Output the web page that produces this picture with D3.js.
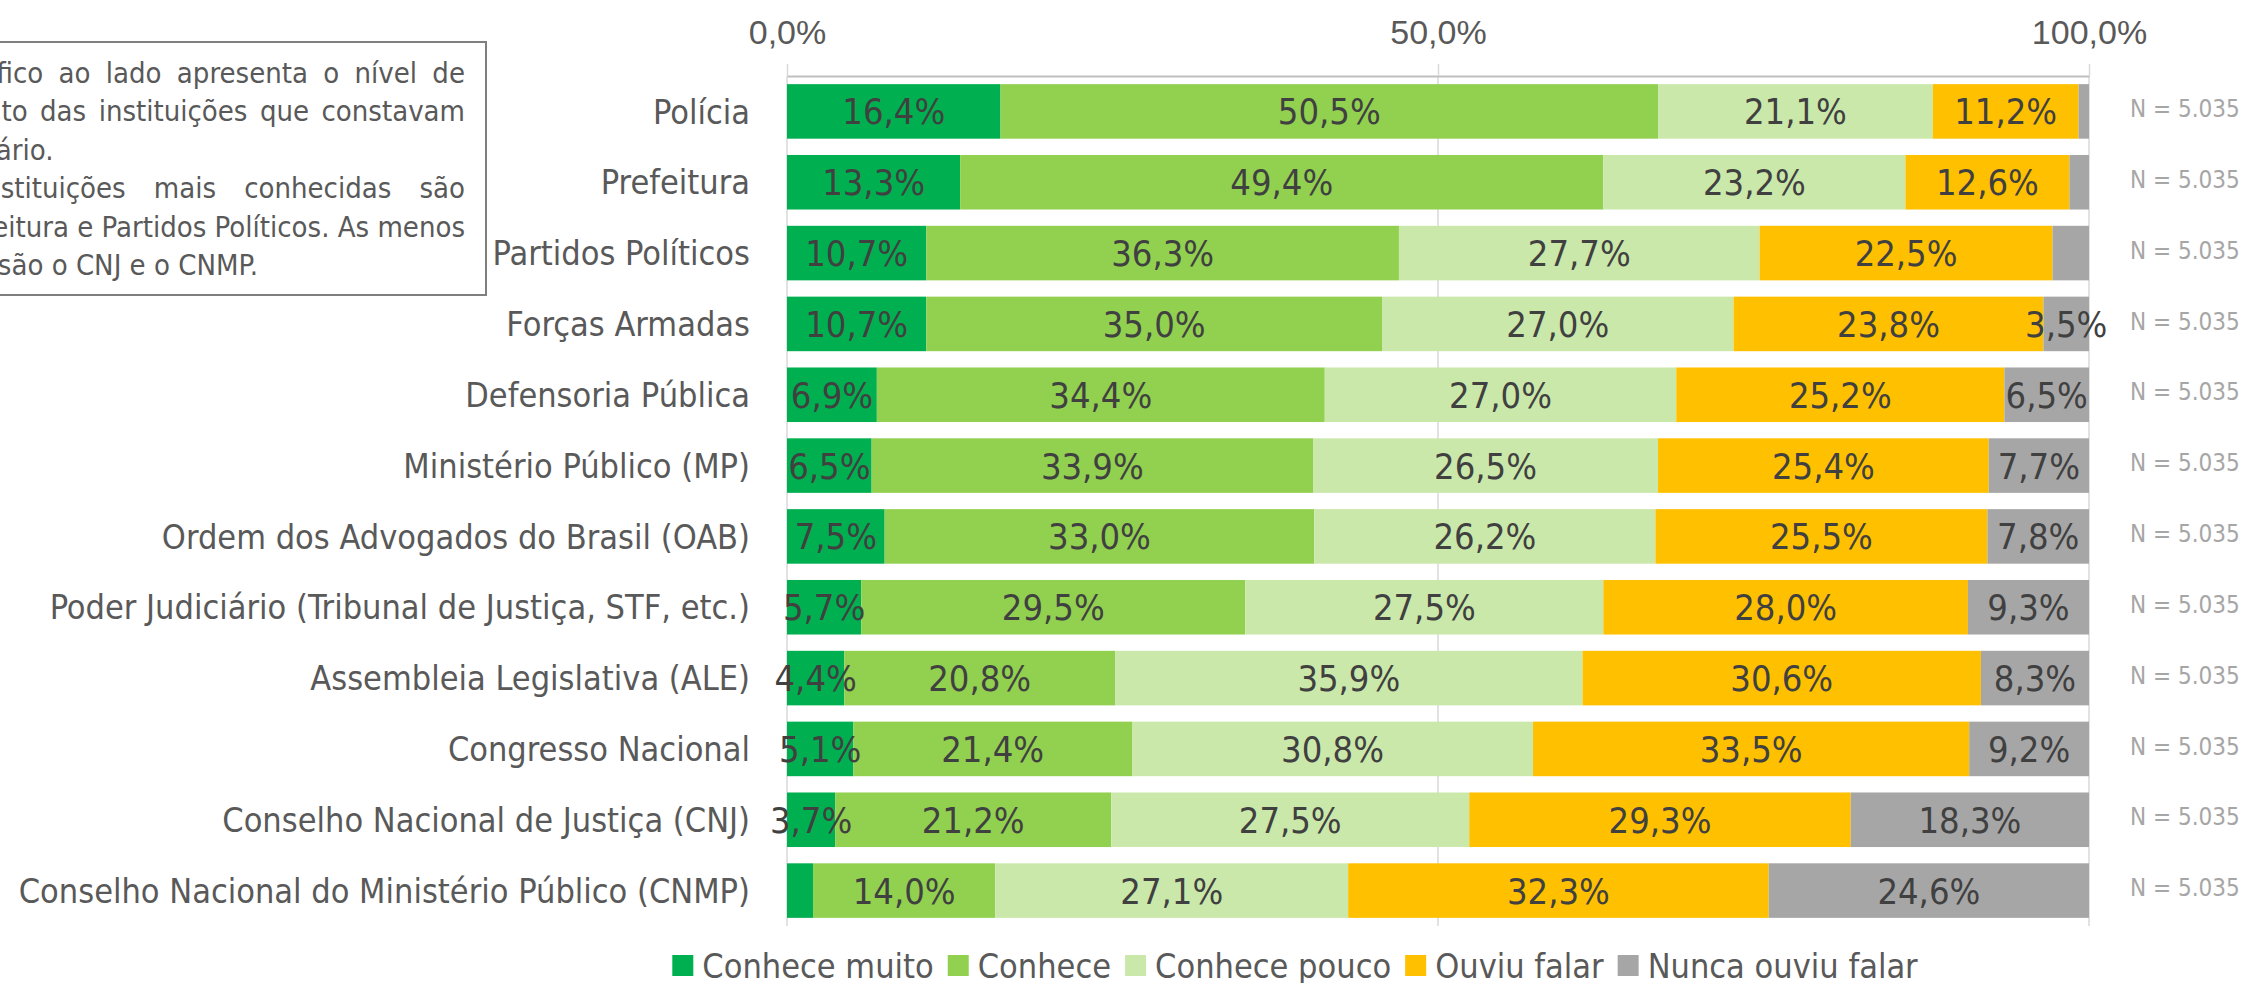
<!DOCTYPE html>
<html>
<head>
    <meta charset="utf-8">
    <title>Conhecimento das instituições</title>
    <script type="text/javascript" src="https://cdn.jsdelivr.net/npm/d3@7"></script>
    <style type="text/css">
        html, body {
            margin: 0;
            background: #fff;
        }

        svg {
            display: block;
            font-family: "DejaVu Sans Condensed", "Liberation Sans Narrow", sans-serif;
        }
    </style>
</head>

<body>

<script type="text/javascript">
    var w = 2246, h = 983;

    var categories = [
        "Polícia",
        "Prefeitura",
        "Partidos Políticos",
        "Forças Armadas",
        "Defensoria Pública",
        "Ministério Público (MP)",
        "Ordem dos Advogados do Brasil (OAB)",
        "Poder Judiciário (Tribunal de Justiça, STF, etc.)",
        "Assembleia Legislativa (ALE)",
        "Congresso Nacional",
        "Conselho Nacional de Justiça (CNJ)",
        "Conselho Nacional do Ministério Público (CNMP)"
    ];

    var seriesNames = ["Conhece muito", "Conhece", "Conhece pouco", "Ouviu falar", "Nunca ouviu falar"];
    var seriesColors = ["#00b050", "#92d050", "#cbe8ab", "#ffc000", "#a6a6a6"];

    var conheceMuito = [16.4, 13.3, 10.7, 10.7, 6.9, 6.5, 7.5, 5.7, 4.4, 5.1, 3.7, 2.0];
    var conhece = [50.5, 49.4, 36.3, 35.0, 34.4, 33.9, 33.0, 29.5, 20.8, 21.4, 21.2, 14.0];
    var conhecePouco = [21.1, 23.2, 27.7, 27.0, 27.0, 26.5, 26.2, 27.5, 35.9, 30.8, 27.5, 27.1];
    var ouviuFalar = [11.2, 12.6, 22.5, 23.8, 25.2, 25.4, 25.5, 28.0, 30.6, 33.5, 29.3, 32.3];
    var nuncaOuviu = [0.8, 1.5, 2.8, 3.5, 6.5, 7.7, 7.8, 9.3, 8.3, 9.2, 18.3, 24.6];

    var nLabels = ["N = 5.035", "N = 5.035", "N = 5.035", "N = 5.035", "N = 5.035", "N = 5.035",
        "N = 5.035", "N = 5.035", "N = 5.035", "N = 5.035", "N = 5.035", "N = 5.035"];

    var xTicks = [0, 50, 100];

    var noteLines = [
        "O gráfico ao lado apresenta o nível de",
        "conhecimento das instituições que constavam",
        "no questionário.",
        "As instituições mais conhecidas são",
        "Polícia, Prefeitura e Partidos Políticos. As menos",
        "conhecidas são o CNJ e o CNMP."
    ];
    var noteJustify = [true, true, false, true, true, false];
    var noteIndent = [true, false, false, true, false, false];

    var series = [conheceMuito, conhece, conhecePouco, ouviuFalar, nuncaOuviu];

    var rows = categories.map(function (c, i) {
        var row = {name: c};
        seriesNames.forEach(function (s, j) { row[s] = series[j][i]; });
        return row;
    });

    var stacked = d3.stack().keys(seriesNames)(rows);

    var x = d3.scaleLinear().domain([0, 100]).range([787, 2089]);
    var y = d3.scaleBand().domain(categories).range([76, 926])
            .paddingInner(0.23).paddingOuter(0.115);

    var fmt = function (v) { return v.toFixed(1).replace(".", ",") + "%"; };

    var svg = d3.select("body")
            .append("svg")
                .attr("width", w)
                .attr("height", h);

    // note box, cut at the left edge like in the source
    var note = svg.append("g");
    note.append("rect")
        .attr("x", -300).attr("y", 42)
        .attr("width", 786).attr("height", 253)
        .attr("fill", "#fff")
        .attr("stroke", "#7f7f7f")
        .attr("stroke-width", 2);

    var noteRight = 465, indent = 75;
    var noteTexts = noteLines.map(function (line, i) {
        return note.append("text")
            .attr("y", 83 + i * 38.4)
            .attr("fill", "#595959")
            .style("font-size", "29px")
            .text(line);
    });
    var maxLen = d3.max(noteTexts, function (t, i) {
        return t.node().getComputedTextLength() + (noteIndent[i] ? indent : 0);
    });
    var noteLeft = noteRight - maxLen;
    noteTexts.forEach(function (t, i) {
        var start = noteLeft + (noteIndent[i] ? indent : 0);
        t.attr("x", start);
        if (noteJustify[i]) {
            var len = t.node().getComputedTextLength();
            var gaps = noteLines[i].split(" ").length - 1;
            t.attr("word-spacing", (noteRight - start - len) / gaps);
        }
    });

    // grid
    svg.append("g").selectAll("line")
        .data(xTicks)
        .enter().append("line")
            .attr("x1", function (d) { return x(d); })
            .attr("x2", function (d) { return x(d); })
            .attr("y1", 76)
            .attr("y2", 926)
            .attr("stroke", "#d9d9d9")
            .attr("stroke-width", 1.5);

    // top axis
    var axis = svg.append("g")
        .attr("transform", "translate(0,76)")
        .call(d3.axisTop(x).tickValues(xTicks).tickFormat(fmt).tickSize(12).tickSizeOuter(0).tickPadding(20));
    axis.select(".domain").attr("stroke", "#bfbfbf").attr("stroke-width", 2);
    axis.selectAll(".tick line").attr("stroke", "#d9d9d9").attr("stroke-width", 1.5);
    axis.selectAll(".tick text")
        .attr("fill", "#595959")
        .style("font-size", "34px")
        .style("font-family", null);

    // bars
    var layers = svg.append("g").selectAll("g")
        .data(stacked)
        .enter().append("g")
            .attr("fill", function (d, i) { return seriesColors[i]; });

    layers.selectAll("rect")
        .data(function (d) { return d; })
        .enter().append("rect")
            .attr("x", function (d) { return x(d[0]); })
            .attr("y", function (d) { return y(d.data.name); })
            .attr("width", function (d) { return x(d[1]) - x(d[0]); })
            .attr("height", y.bandwidth());

    // value labels
    var labels = [];
    stacked.forEach(function (layer) {
        layer.forEach(function (d) {
            var v = d[1] - d[0];
            if (v >= 3) labels.push({v: v, x: (d[0] + d[1]) / 2, cat: d.data.name});
        });
    });

    svg.append("g").selectAll("text")
        .data(labels)
        .enter().append("text")
            .attr("x", function (d) { return x(d.x); })
            .attr("y", function (d) { return y(d.cat) + y.bandwidth() / 2; })
            .attr("dy", "0.36em")
            .attr("text-anchor", "middle")
            .attr("fill", "#404040")
            .style("font-size", "36px")
            .text(function (d) { return fmt(d.v); });

    // category labels
    svg.append("g").selectAll("text")
        .data(categories)
        .enter().append("text")
            .attr("x", 750)
            .attr("y", function (d) { return y(d) + y.bandwidth() / 2; })
            .attr("dy", "0.36em")
            .attr("text-anchor", "end")
            .attr("fill", "#595959")
            .style("font-size", "34px")
            .text(function (d) { return d; });

    // N labels
    svg.append("g").selectAll("text")
        .data(nLabels)
        .enter().append("text")
            .attr("x", 2130)
            .attr("y", function (d, i) { return y(categories[i]) + y.bandwidth() / 2 - 3; })
            .attr("dy", "0.36em")
            .attr("fill", "#a6a6a6")
            .style("font-size", "24px")
            .text(function (d) { return d; });

    // legend
    var legend = svg.append("g");
    var lx = 0;
    var items = legend.selectAll("g")
        .data(seriesNames)
        .enter().append("g");
    items.append("rect")
        .attr("y", -11)
        .attr("width", 21).attr("height", 21)
        .attr("fill", function (d, i) { return seriesColors[i]; });
    items.append("text")
        .attr("x", 30)
        .attr("dy", "0.36em")
        .attr("fill", "#595959")
        .style("font-size", "34px")
        .text(function (d) { return d; });
    items.each(function () {
        var g = d3.select(this);
        g.attr("transform", "translate(" + lx + ",0)");
        lx += 30 + g.select("text").node().getComputedTextLength() + 14;
    });
    legend.attr("transform", "translate(" + (1295 - (lx - 14) / 2) + ",966)");
</script>

</body>

</html>
